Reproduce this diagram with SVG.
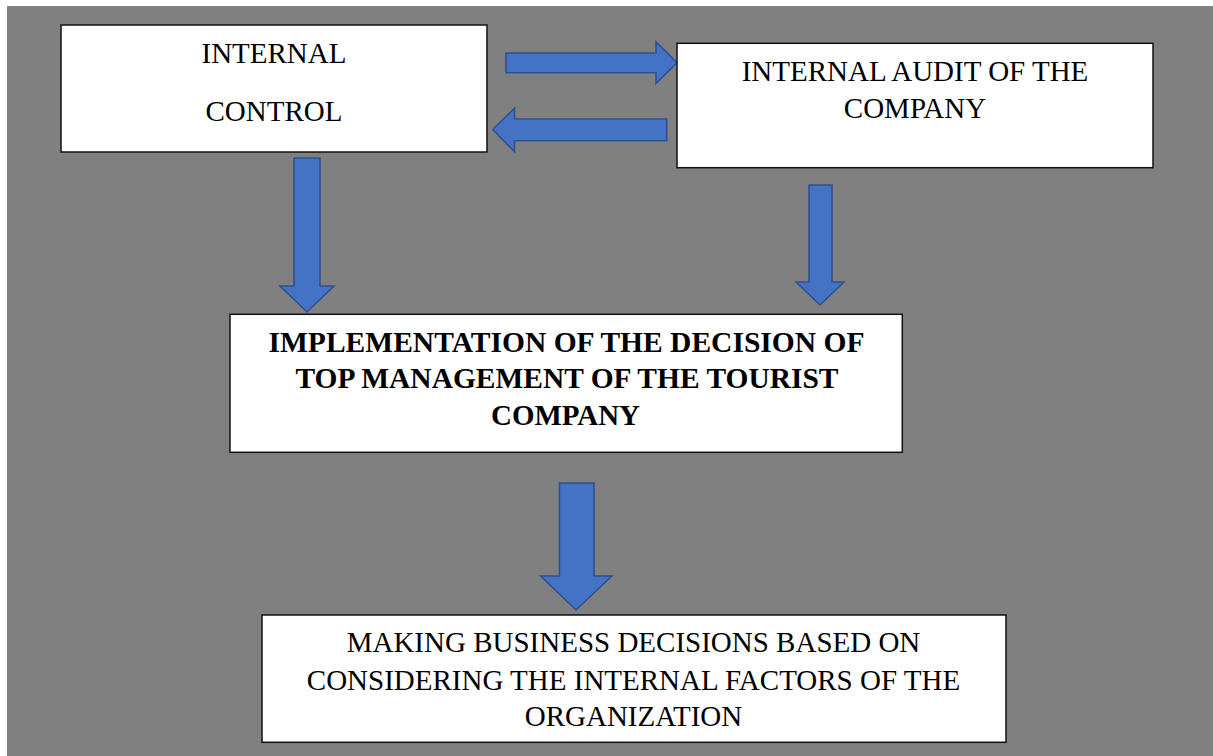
<svg xmlns="http://www.w3.org/2000/svg" width="1213" height="756" viewBox="0 0 1213 756">
<style>
.box{fill:#ffffff;stroke:#111111;stroke-width:1.5}
.arr{fill:#4472C4;stroke:#2F528F;stroke-width:1.6;stroke-linejoin:miter}
.t{font-family:"Liberation Serif","Times New Roman",serif;font-size:29px;fill:#000;text-anchor:middle}
.b{font-weight:bold}
</style>
<rect x="0" y="0" width="1213" height="756" fill="#ffffff"/>
<rect x="7" y="6" width="1206" height="750" fill="#808080"/>
<g id="connectors">
<path class="arr" d="M506,53 L656,53 L656,42 L677,62.7 L656,83.5 L656,72.7 L506,72.7 Z"/>
<path class="arr" d="M666.7,119 L514.5,119 L514.5,108.3 L492.7,129.5 L514.5,151.7 L514.5,140.7 L666.7,140.7 Z"/>
<path class="arr" d="M294,158 L320,158 L320,286 L334,286 L307,312 L280,286 L294,286 Z"/>
<path class="arr" d="M809,185 L832,185 L832,282 L844,282 L820,305 L796,282 L809,282 Z"/>
<path class="arr" d="M559.5,483 L594,483 L594,576 L611.8,576 L576,610 L540.7,576 L559.5,576 Z"/>
</g>
<g id="internal-control">
<rect class="box" x="61" y="25" width="426" height="127"/>
<text class="t" x="274" y="62.7">INTERNAL</text>
<text class="t" x="274" y="120.7">CONTROL</text>
</g>
<g id="internal-audit">
<rect class="box" x="677" y="43.3" width="476" height="124.4"/>
<text class="t" x="915" y="80.7">INTERNAL AUDIT OF THE</text>
<text class="t" x="915" y="117.7">COMPANY</text>
</g>
<g id="implementation">
<rect class="box" x="230" y="314.3" width="672.3" height="138"/>
<text class="t b" x="566.5" y="351.7" textLength="596" lengthAdjust="spacingAndGlyphs">IMPLEMENTATION OF THE DECISION OF</text>
<text class="t b" x="567" y="388.3" textLength="543" lengthAdjust="spacingAndGlyphs">TOP MANAGEMENT OF THE TOURIST</text>
<text class="t b" x="565.5" y="425" textLength="149" lengthAdjust="spacingAndGlyphs">COMPANY</text>
</g>
<g id="business-decisions">
<rect class="box" x="262" y="615" width="744" height="127.3"/>
<text class="t" x="633.5" y="652.3">MAKING BUSINESS DECISIONS BASED ON</text>
<text class="t" x="633.5" y="690">CONSIDERING THE INTERNAL FACTORS OF THE</text>
<text class="t" x="633.5" y="726">ORGANIZATION</text>
</g>
</svg>
